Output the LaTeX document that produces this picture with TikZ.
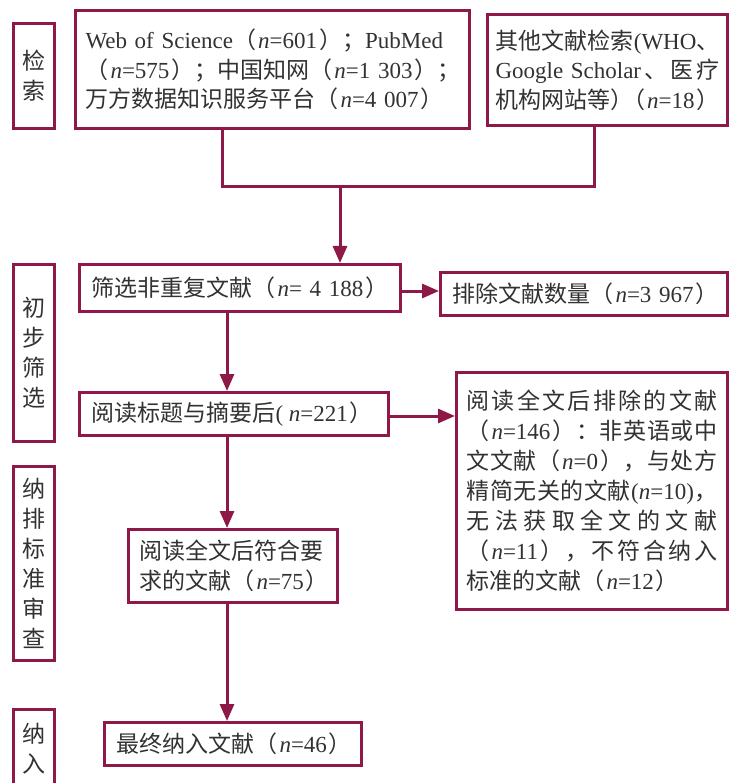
\documentclass[tikz,border=0pt]{standalone}
\usepackage{fontspec}
\setmainfont{Noto Sans CJK SC}
\newfontfamily\latin{Liberation Serif}
\usetikzlibrary{arrows.meta}
\definecolor{crim}{RGB}{142,24,72}
\definecolor{txt}{RGB}{50,50,50}
\newcommand{\en}[1]{{\latin #1}}
\newcommand{\nv}[1]{{\latin\kern2pt\textit{n}=#1\kern2pt}}
\newcommand{\sq}{\hskip 0pt plus 1fil\relax}
\newcommand{\jline}[1]{\leavevmode\hbox to \hsize{#1}}
\newcommand{\fsz}{\fontsize{23}{29.5}\selectfont}
\newcommand{\fsw}{\fontsize{23}{30}\selectfont}
\tikzset{
  mbox/.style={draw=crim, line width=3pt, rectangle, inner xsep=12pt, inner ysep=0pt,
    text=txt, align=left, font=\fsz},
  sbox/.style={draw=crim, line width=3pt, rectangle, minimum width=41pt, inner sep=0pt,
    text=txt, align=center, font=\fsw},
  conn/.style={draw=crim, line width=3pt},
  arrw/.style={draw=crim, line width=3pt, -{Triangle[length=17pt,width=14pt]}},
}
\begin{document}
\begin{tikzpicture}[x=1pt,y=-1pt]
\fill[white] (0,0) rectangle (732,783);
\useasboundingbox (0,0) rectangle (732,783);

% side labels
\node[sbox, minimum height=105pt] (s1) at (34,76) {检\\索};
\node[sbox, minimum height=177pt] (s2) at (34,353) {初\\步\\筛\\选};
\node[sbox, minimum height=194pt] (s3) at (34,563.5) {纳\\排\\标\\准\\审\\查};
\node[sbox, minimum height=80pt] (s4) at (34,749) {纳\\入};

% main boxes
\node[mbox, text width=374pt, inner xsep=10pt, minimum height=118pt] (b1) at (272.5,69.5)
  {\en{Web of Science}（\nv{601}）；\en{PubMed}\\
   （\nv{575}）；中国知网（\nv{1~303}）；\\
   万方数据知识服务平台（\nv{4~007}）};
\node[mbox, text width=224pt, inner xsep=8pt, minimum height=111pt] (b2) at (607.5,70)
  {\jline{其\sq 他\sq 文\sq 献\sq 检\sq 索\sq\en{(WHO}\sq 、}\\
   \jline{\en{Google~Scholar}\sq 、\sq 医\sq 疗}\\
   \jline{机\sq 构\sq 网\sq 站\sq 等\sq ）\kern-0.5em\sq （\nv{18}）}};
\node[mbox, text width=297pt, minimum height=47pt] (b3) at (240,288)
  {筛选非重复文献（\nv{~4~188}）};
\node[mbox, text width=263pt, minimum height=43pt] (b4) at (584,294)
  {排除文献数量（\nv{3~967}）};
\node[mbox, text width=285pt, minimum height=43pt] (b5) at (234,414)
  {阅读标题与摘要后\en{(}\,\nv{221}）};
\node[mbox, text width=251pt, inner xsep=10pt, minimum height=237pt, font=\fsw] (b6) at (592,491)
  {\jline{阅\sq 读\sq 全\sq 文\sq 后\sq 排\sq 除\sq 的\sq 文\sq 献}\\
   \jline{（\nv{146}）\sq ：\sq 非\sq 英\sq 语\sq 或\sq 中}\\
   \jline{文\sq 文\sq 献\sq （\nv{0}）\sq ，\sq 与\sq 处\sq 方}\\
   \jline{精\sq 简\sq 无\sq 关\sq 的\sq 文\sq 献\sq\en{(\textit{n}=10)}\sq ，}\\
   \jline{无\sq 法\sq 获\sq 取\sq 全\sq 文\sq 的\sq 文\sq 献}\\
   \jline{（\nv{11}）\sq ，\sq 不\sq 符\sq 合\sq 纳\sq 入}\\
   标准的文献（\nv{12}）};
\node[mbox, text width=187pt, inner xsep=11pt, minimum height=73pt] (b7) at (233,566)
  {阅读全文后符合要\\求的文献（\nv{75}）};
\node[mbox, text width=233pt, minimum height=43pt] (b8) at (233,744)
  {最终纳入文献（\nv{46}）};

% helper coordinates
\coordinate (j1) at (222,187);
\coordinate (j2) at (594,187);
\coordinate (j) at (340,187);
\coordinate (cx) at (227,0);
\coordinate (y1) at (0,291);
\coordinate (y2) at (0,416);

% connectors
\draw[conn] (b1.south -| j1) -- (j1) -- (j2) -- (b2.south -| j2);
\draw[arrw] (j) -- (b3.north -| j);
\draw[arrw] (b3.east |- y1) -- (b4.west |- y1);
\draw[arrw] (b3.south -| cx) -- (b5.north -| cx);
\draw[arrw] (b5.east |- y2) -- (b6.west |- y2);
\draw[arrw] (b5.south -| cx) -- (b7.north -| cx);
\draw[arrw] (b7.south -| cx) -- (b8.north -| cx);
\end{tikzpicture}
\end{document}
